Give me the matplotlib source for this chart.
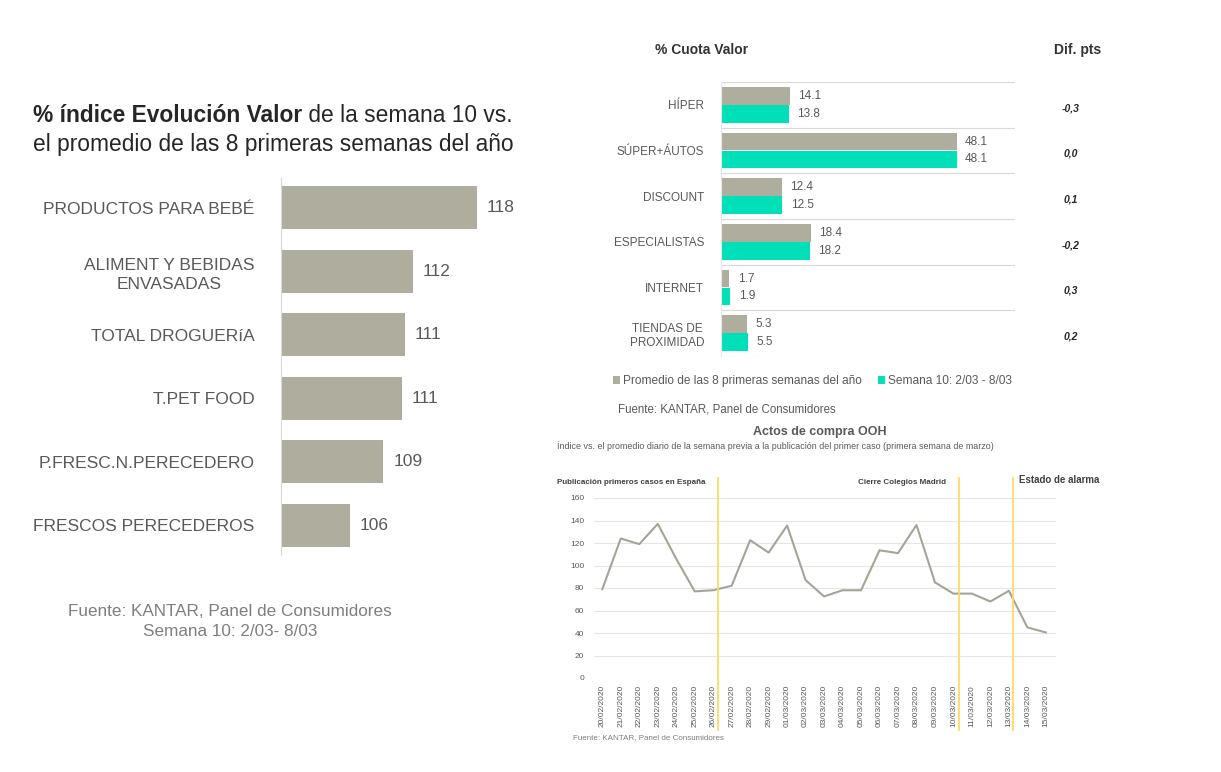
import matplotlib.pyplot as plt

plt.rcParams['font.family'] = ['Liberation Sans', 'DejaVu Sans']

# ---- data: left chart (indice evolucion valor)
cats_left = ['PRODUCTOS PARA BEBÉ', 'ALIMENT Y BEBIDAS\nENVASADAS', 'TOTAL DROGUERíA',
             'T.PET FOOD', 'P.FRESC.N.PERECEDERO', 'FRESCOS PERECEDEROS']
indice = [118.0, 112.1, 111.4, 111.1, 109.4, 106.3]

# ---- data: right top chart (cuota valor)
canales = ['HÍPER', 'SÚPER+ÁUTOS', 'DISCOUNT', 'ESPECIALISTAS', 'INTERNET', 'TIENDAS DE\nPROXIMIDAD']
promedio8 = [14.1, 48.1, 12.4, 18.4, 1.7, 5.3]
semana10 = [13.8, 48.1, 12.5, 18.2, 1.9, 5.5]
dif_pts = ['-0,3', '0,0', '0,1', '-0,2', '0,3', '0,2']

# ---- data: bottom right chart (actos de compra OOH)
fechas = ['20/02/2020', '21/02/2020', '22/02/2020', '23/02/2020', '24/02/2020', '25/02/2020',
          '26/02/2020', '27/02/2020', '28/02/2020', '29/02/2020', '01/03/2020', '02/03/2020',
          '03/03/2020', '04/03/2020', '05/03/2020', '06/03/2020', '07/03/2020', '08/03/2020',
          '09/03/2020', '10/03/2020', '11/03/2020', '12/03/2020', '13/03/2020', '14/03/2020',
          '15/03/2020']
actos = [79, 124, 119, 137, 106, 77, 78, 82, 122.5, 111.5, 135.5, 87, 72.5, 78, 78, 113.5,
         111, 136, 85, 75, 75, 68, 77.5, 45, 40.5]
eventos = [6.26, 19.31, 22.23]

GRAY = '#AFAE9E'
TEAL = '#00E0B8'
TXT = '#595959'

W, H = 1221, 772


def rect(x0, y0, x1, y1):
    return [x0 / W, 1 - y1 / H, (x1 - x0) / W, (y1 - y0) / H]


fig = plt.figure(figsize=(W / 100, H / 100), dpi=100)
fig.patch.set_facecolor('white')

# ================= left chart
ax1 = fig.add_axes(rect(281, 178, 499, 555))
pos = list(range(len(cats_left)))
ax1.barh(pos, indice, left=0, height=0.68, color=GRAY)
ax1.set_xlim(100, 120)
ax1.set_ylim(5.47, -0.47)
ax1.set_yticks(pos, cats_left)
for lbl in ax1.get_yticklabels():
    lbl.set_multialignment('center')
    lbl.set_linespacing(1.35)
ax1.tick_params(axis='y', length=0, pad=19, labelsize=12.5, labelcolor=TXT)
ax1.set_xticks([])
for s in ['top', 'right', 'bottom']:
    ax1.spines[s].set_visible(False)
ax1.spines['left'].set_color('#D9D9D9')
for p, v in zip(pos, indice):
    ax1.annotate(f'{round(v)}', (v, p), xytext=(7, 0), textcoords='offset points',
                 va='center', ha='left', fontsize=12.5, color=TXT)

# title with mixed weights
t1 = fig.text(33 / W, 1 - 116 / H, '% índice Evolución Valor', fontsize=16.4, fontweight='bold',
              color='#262626', va='center', ha='left')
fig.canvas.draw()
bb = t1.get_window_extent()
fig.text(bb.x1 / W, 1 - 116 / H, ' de la semana 10 vs.', fontsize=16.4, color='#262626',
         va='center', ha='left')
fig.text(33 / W, 1 - 145 / H, 'el promedio de las 8 primeras semanas del año', fontsize=16.4,
         color='#262626', va='center', ha='left')

fig.text(230 / W, 1 - 612 / H, 'Fuente: KANTAR, Panel de Consumidores', fontsize=12.3,
         color='#7F7F7F', ha='center', va='center')
fig.text(230 / W, 1 - 632 / H, 'Semana 10: 2/03- 8/03', fontsize=12.3,
         color='#7F7F7F', ha='center', va='center')

# ================= right top chart
ax2 = fig.add_axes(rect(721, 82, 1015, 356))
n = len(canales)
yc = [i + 0.5 for i in range(n)]
ax2.barh([y - 0.195 for y in yc], promedio8, height=0.39, color=GRAY,
         label='Promedio de las 8 primeras semanas del año')
ax2.barh([y + 0.195 for y in yc], semana10, height=0.39, color=TEAL,
         label='Semana 10: 2/03 - 8/03')
ax2.set_xlim(0, 60)
ax2.set_ylim(n, 0)
ax2.set_yticks(yc, canales)
for lbl in ax2.get_yticklabels():
    lbl.set_multialignment('center')
    lbl.set_linespacing(1.25)
ax2.set_yticks(range(n + 1), minor=True)
ax2.grid(axis='y', which='minor', color='#D9D9D9', lw=0.8)
ax2.tick_params(axis='y', which='both', length=0, pad=12, labelsize=8.5, labelcolor=TXT)
ax2.set_xticks([])
for s in ['top', 'right', 'bottom']:
    ax2.spines[s].set_visible(False)
ax2.spines['left'].set_color('#E6E6E6')
for y, a, b in zip(yc, promedio8, semana10):
    ax2.annotate(f'{a:.1f}', (a, y - 0.195), xytext=(6, 0), textcoords='offset points',
                 va='center', fontsize=8.5, color=TXT)
    ax2.annotate(f'{b:.1f}', (b, y + 0.195), xytext=(6, 0), textcoords='offset points',
                 va='center', fontsize=8.5, color=TXT)
for y, d in zip(yc, dif_pts):
    ax2.text(1.19, y + 0.07, d, transform=ax2.get_yaxis_transform(), ha='center',
             va='center', fontsize=7.5, fontstyle='italic', fontweight='bold', color='#262626')

ax2.legend(loc='center left', bbox_to_anchor=(613 / W, 1 - 381 / H), bbox_transform=fig.transFigure,
           ncol=2, frameon=False, fontsize=8.6, handlelength=0.6, handleheight=0.6,
           handletextpad=0.2, columnspacing=1.4, labelcolor=TXT, borderaxespad=0, borderpad=0)

fig.text(702 / W, 1 - 50 / H, '% Cuota Valor', fontsize=10, fontweight='bold', color='#333333',
         ha='center', va='center')
fig.text(1078 / W, 1 - 50 / H, 'Dif. pts', fontsize=10, fontweight='bold', color='#333333',
         ha='center', va='center')
fig.text(618 / W, 1 - 409 / H, 'Fuente: KANTAR, Panel de Consumidores', fontsize=8.3,
         color=TXT, ha='left', va='center')

# ================= bottom right chart
ax3 = fig.add_axes(rect(594, 498, 1056, 678))
xs = list(range(len(fechas)))
ax3.plot(xs, actos, color='#A6A495', lw=1.5)
ax3.set_xlim(-0.45, 24.55)
ax3.set_ylim(0, 160)
ax3.set_yticks(range(0, 161, 20))
ax3.set_xticks(xs, fechas, rotation=90)
ax3.grid(axis='y', color='#E6E6E6', lw=0.8)
ax3.set_axisbelow(True)
ax3.tick_params(length=0, labelsize=6, labelcolor=TXT)
ax3.tick_params(axis='y', pad=7)
ax3.tick_params(axis='x', pad=5)
for s in ax3.spines.values():
    s.set_visible(False)
for e in eventos:
    ax3.axvline(e, ymin=-0.29, ymax=1.11, color='#FFD966', lw=1.3, clip_on=False)

fig.text(820 / W, 1 - 432 / H, 'Actos de compra OOH', fontsize=9, fontweight='bold',
         color=TXT, ha='center', va='center')
fig.text(557 / W, 1 - 446 / H,
         'Índice vs. el promedio diario de la semana previa a la publicación del primer caso '
         '(primera semana de marzo)', fontsize=6.4, color=TXT, ha='left', va='center')
fig.text(557 / W, 1 - 483 / H, 'Publicación primeros casos en España', fontsize=5.8,
         fontweight='bold', color='#404040', ha='left', va='center')
fig.text(858 / W, 1 - 483 / H, 'Cierre Colegios Madrid', fontsize=5.8,
         fontweight='bold', color='#404040', ha='left', va='center')
fig.text(1019 / W, 1 - 480 / H, 'Estado de alarma', fontsize=7,
         fontweight='bold', color='#404040', ha='left', va='center')
fig.text(573 / W, 1 - 738 / H, 'Fuente: KANTAR, Panel de Consumidores', fontsize=5.8,
         color='#7F7F7F', ha='left', va='center')

fig.savefig('out.png', dpi=100, facecolor='white')
